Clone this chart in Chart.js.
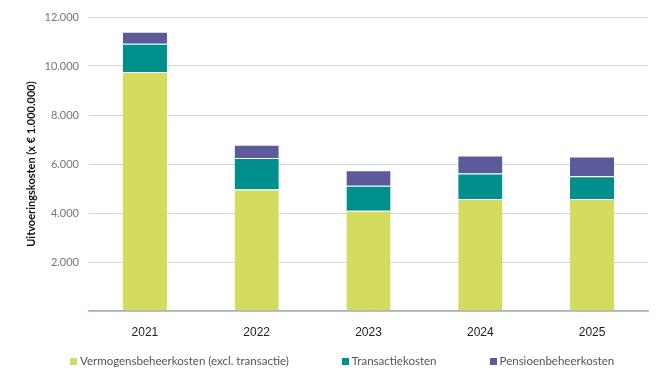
<!DOCTYPE html>
<html>
<head>
<meta charset="utf-8">
<script src="https://cdn.jsdelivr.net/npm/chart.js@4.4.0/dist/chart.umd.min.js"></script>
<style>
  html, body { margin: 0; padding: 0; background: #fff; }
  #wrap { position: relative; width: 661px; height: 389px; }
  #legend {
    position: absolute; left: 70px; top: 353px;
    display: flex; gap: 53px;
    font-family: Lato, sans-serif; font-size: 11.5px; color: #555;
    white-space: nowrap; line-height: 16px;
  }
  #legend span.item { display: flex; align-items: center; }
  #legend i { display: inline-block; width: 7px; height: 7px; margin-right: 3px; }
</style>
</head>
<body>
<div id="wrap">
  <canvas id="chart"></canvas>
  <div id="legend"></div>
</div>
<script>
// data (x € 1.000.000)
const years = ['2021', '2022', '2023', '2024', '2025'];
const vermogensbeheer = [9755, 4960, 4095, 4570, 4570];
const transactie = [1155, 1280, 1015, 1045, 925];
const pensioenbeheer = [490, 545, 630, 735, 815];
const seriesNames = ['Vermogensbeheerkosten (excl. transactie)', 'Transactiekosten', 'Pensioenbeheerkosten'];
const seriesColors = ['#d4dc5f', '#008f8c', '#5b5a9b'];

function nlNumber(v) {
  return String(v).replace(/\B(?=(\d{3})+(?!\d))/g, '.');
}

// html legend, the built-in one spaces items too tight
const legendEl = document.getElementById('legend');
seriesNames.forEach((name, i) => {
  const item = document.createElement('span');
  item.className = 'item';
  const box = document.createElement('i');
  box.style.background = seriesColors[i];
  item.appendChild(box);
  item.appendChild(document.createTextNode(name));
  legendEl.appendChild(item);
});

const ctx = document.getElementById('chart');
new Chart(ctx, {
  type: 'bar',
  data: {
    labels: years,
    datasets: [vermogensbeheer, transactie, pensioenbeheer].map((d, i) => ({
      label: seriesNames[i],
      data: d,
      backgroundColor: seriesColors[i],
      borderColor: 'rgba(255,255,255,0.7)',
      borderWidth: { top: 1, left: 0, right: 0, bottom: 0 },
      borderSkipped: false,
      barPercentage: 0.395,
      categoryPercentage: 1
    }))
  },
  options: {
    responsive: true,
    maintainAspectRatio: false,
    animation: false,
    layout: { padding: { top: 17, right: 13, left: 25, bottom: 50 } },
    plugins: {
      tooltip: { enabled: false },
      legend: { display: false }
    },
    scales: {
      x: {
        stacked: true,
        grid: { display: false },
        border: { display: true, color: '#9db2b9', width: 1.5 },
        ticks: { color: '#222', font: { family: 'Liberation Sans', size: 12 }, padding: 6 },
        afterFit: (s) => { s.height = 28; }
      },
      y: {
        stacked: true,
        min: 0,
        max: 12000,
        border: { display: false },
        grid: { color: '#cdd9dc', lineWidth: 1, drawTicks: false },
        ticks: {
          stepSize: 2000,
          padding: 10,
          color: '#777',
          font: { family: 'Lato', size: 11 },
          callback: (v) => v === 0 ? '' : nlNumber(v)
        },
        title: {
          display: true,
          text: 'Uitvoeringskosten (x € 1.000.000)',
          color: '#111',
          font: { family: 'Lato', size: 11, weight: 'bold' },
          padding: { top: 0, bottom: 4 }
        },
        afterFit: (s) => { s.width = 64; }
      }
    }
  }
});
</script>
</body>
</html>
